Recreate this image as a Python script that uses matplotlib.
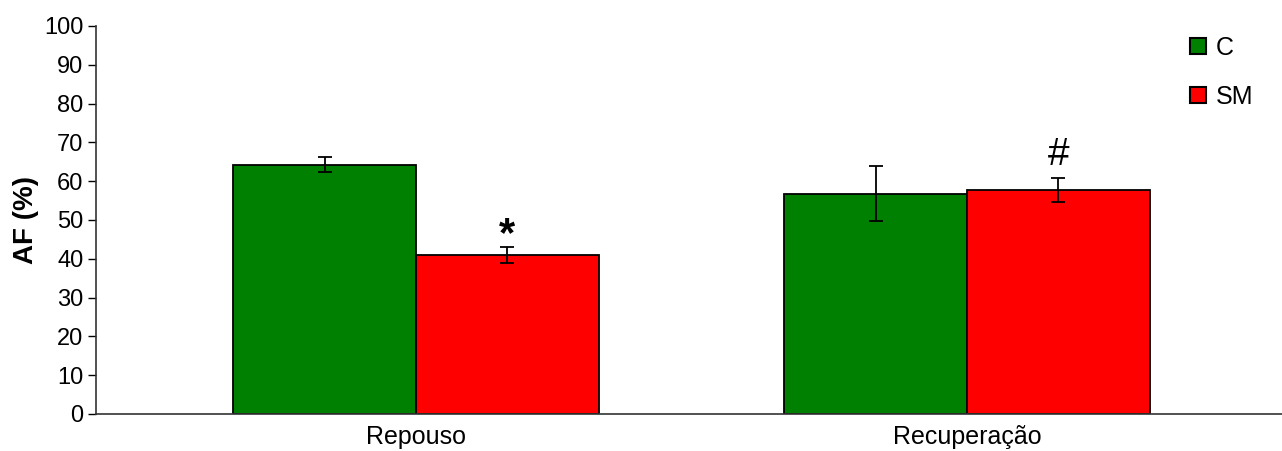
import matplotlib
matplotlib.use("Agg")
import matplotlib.pyplot as plt
import numpy as np

plt.rcParams['font.family'] = ['Liberation Sans', 'DejaVu Sans']

categories = ["Repouso", "Recuperação"]
series_names = ["C", "SM"]
c_values = [64.3, 56.8]
c_errors = [1.9, 7.0]
sm_values = [41.0, 57.7]
sm_errors = [2.1, 3.0]
sm_marks = ["*", "#"]
colors = ["#008000", "#FF0000"]

W, H = 1282, 451
fig = plt.figure(figsize=(W / 100, H / 100), dpi=100)
ax = fig.add_axes([96 / W, 37 / H, 1 - 96 / W, 388 / H])

x = np.arange(len(categories))
width = 0.332
err_kw = dict(ecolor="black", elinewidth=1.3, capsize=4.7, capthick=1.3)

ax.bar(x - width / 2, c_values, width, yerr=c_errors, color=colors[0],
       edgecolor="black", linewidth=1.3, label=series_names[0],
       error_kw=err_kw, zorder=2)
ax.bar(x + width / 2, sm_values, width, yerr=sm_errors, color=colors[1],
       edgecolor="black", linewidth=1.3, label=series_names[1],
       error_kw=err_kw, zorder=2)

# significance marks above the SM bars
mark_style = {"*": dict(fontsize=30, fontweight="bold", dy=0.5),
              "#": dict(fontsize=28, fontweight="normal", dy=10)}
for xi, v, e, m in zip(x + width / 2, sm_values, sm_errors, sm_marks):
    st = mark_style[m]
    ax.annotate(m, xy=(xi, v + e), xytext=(0, st["dy"]), textcoords="offset points",
                ha="center", va="baseline", fontsize=st["fontsize"],
                fontweight=st["fontweight"])

ax.set_xlim(-0.5808, 1.5717)
ax.set_ylim(0, 100)
ax.set_yticks(np.arange(0, 101, 10))
ax.set_xticks(x)
ax.set_xticklabels(categories, fontsize=18)
ax.tick_params(axis="x", length=0, pad=8)
ax.tick_params(axis="y", labelsize=17, length=6, width=1, direction="out", pad=3)
ax.set_ylabel("AF (%)", fontsize=20, fontweight="bold", labelpad=4)

for s in ["top", "right"]:
    ax.spines[s].set_visible(False)
for s in ["left", "bottom"]:
    ax.spines[s].set_color("#333333")
    ax.spines[s].set_linewidth(1.2)

leg = fig.legend(loc="upper left", bbox_to_anchor=(1190 / W, 1 - 36 / H),
                 frameon=False, fontsize=18, borderpad=0, borderaxespad=0,
                 handlelength=0.64, handleheight=0.64, handletextpad=0.4,
                 labelspacing=1.0)
for h in leg.legend_handles:
    h.set_linewidth(1.5)

fig.savefig("out.png", dpi=100)
